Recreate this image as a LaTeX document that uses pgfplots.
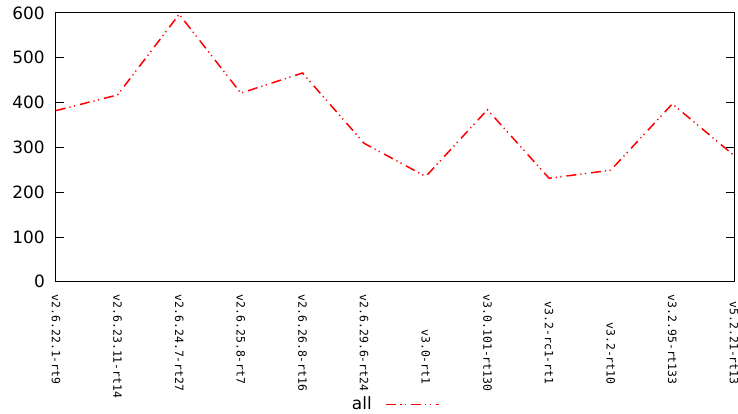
\documentclass[border=0pt]{standalone}
\usepackage{pgfplots}
\pgfplotsset{compat=1.18}
\usepackage{fontspec}
\setmainfont{DejaVu Sans}
\newfontfamily\mono{DejaVu Sans Mono}
\newlength\lblw
\newlength\tmpw
\newcommand\lblfont{\mono\fontsize{11.5bp}{13bp}\selectfont}
\newcommand\lbl[1]{{\lblfont\settowidth\tmpw{#1}\ifdim\tmpw<\lblw\makebox[\lblw][r]{#1}\else#1\fi}}
\begin{document}
\settowidth\lblw{\lblfont v2.6.22.1-rt9}
\begin{tikzpicture}
\begin{axis}[name=ax, scale only axis, width=681bp, height=270bp,
  xmin=0, xmax=11, ymin=0, ymax=600,
  ytick={0,100,...,600},
  xtick={0,...,11},
  xticklabels={\lbl{v2.6.22.1-rt9},\lbl{v2.6.23.11-rt14},\lbl{v2.6.24.7-rt27},\lbl{v2.6.25.8-rt7},\lbl{v2.6.26.8-rt16},\lbl{v2.6.29.6-rt24},\lbl{v3.0-rt1},\lbl{v3.0.101-rt130},\lbl{v3.2-rc1-rt1},\lbl{v3.2-rt10},\lbl{v3.2.95-rt133},\lbl{v5.2.21-rt13}},
  axis line style={line width=0.9bp, black},
  major tick length=8bp,
  tick style={line width=0.9bp, black},
  xtick style={draw=none},
  tick align=inside,
  /pgf/number format/assume math mode=true,
  yticklabel style={font=\fontsize{17bp}{17bp}\selectfont, inner sep=0pt, xshift=-11bp},
  xticklabel style={rotate=-90, anchor=west, inner xsep=13bp, inner ysep=0pt},
  legend plot pos=right,
  legend style={at={(axis description cs:0.5,-0.4556)}, anchor=center, draw=none, fill=none, font=\fontsize{17bp}{17bp}\selectfont, inner sep=0pt,
    /tikz/every odd column/.append style={column sep=12bp}},
  legend image code/.code={\draw[#1] (0bp,0bp) -- (53bp,0bp);},
]
\addplot[red, line width=1.5bp, dash pattern=on 10bp off 4bp on 1.2bp off 3.5bp on 1.2bp off 5bp] coordinates {
(0,382) (1,417) (2,597) (3,421) (4,466) (5,309) (6,235) (7,384) (8,231) (9,249) (10,397) (11,282)
};
\addlegendentry{all}
\end{axis}
\pgfresetboundingbox
\path ([shift={(-53bp,-132bp)}]ax.south west) rectangle ([shift={(4bp,13bp)}]ax.north east);
\end{tikzpicture}
\end{document}
